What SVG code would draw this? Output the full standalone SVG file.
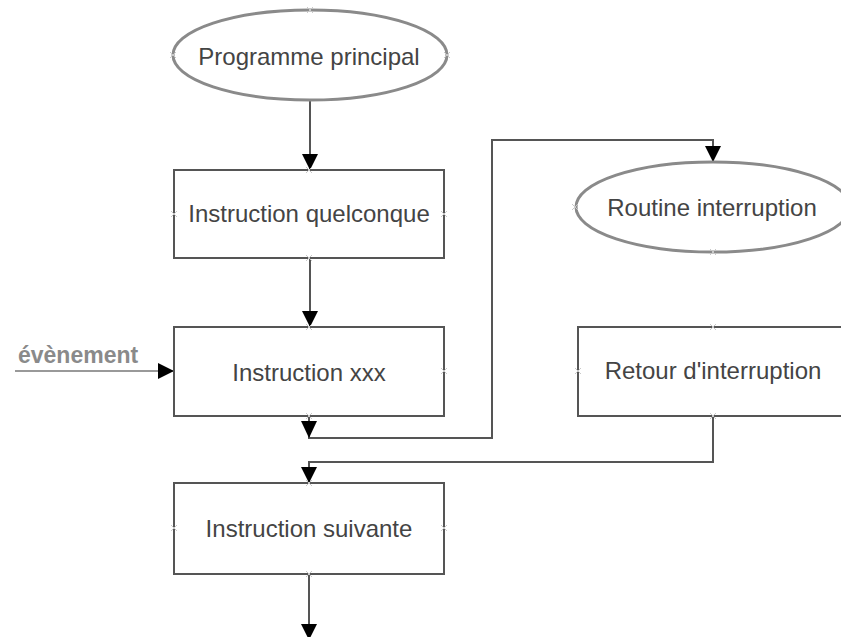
<svg xmlns="http://www.w3.org/2000/svg" width="841" height="637" viewBox="0 0 841 637">
<style>
.bg{fill:#fff}
.ell{fill:#fff;stroke:#8a8a8a;stroke-width:3}
.box{fill:#fff;stroke:#555;stroke-width:2}
.lbl{font-family:"Liberation Sans",Arial,sans-serif;font-size:24px;fill:#444;text-anchor:middle;dominant-baseline:central}
.evt{font-family:"Liberation Sans",Arial,sans-serif;font-size:23px;font-weight:bold;fill:#8a8a8a}
.con{fill:none;stroke:#555;stroke-width:2}
.evl{fill:none;stroke:#999;stroke-width:2}
.cp{stroke:#c8c8c8;stroke-width:1;fill:none}
</style>
<defs>
<marker id="ah" markerUnits="userSpaceOnUse" markerWidth="16" markerHeight="16" refX="16" refY="8" orient="auto" viewBox="0 0 16 16">
<path d="M0,0 L16,8 L0,16 z" fill="#000"/>
</marker>
</defs>
<rect class="bg" x="0" y="0" width="841" height="637"/>

<g id="connectors">
<path class="con" d="M310,100 V170" marker-end="url(#ah)"/>
<path class="con" d="M310,258 V327" marker-end="url(#ah)"/>
<path class="evl" d="M15,371 H174" marker-end="url(#ah)"/>
<path class="con" d="M309,416 V438 H492 V140 H713 V162" marker-end="url(#ah)"/>
<polygon points="301,421 317,421 309,438" fill="#000"/>
<path class="con" d="M713,416 V462 H309 V483" marker-end="url(#ah)"/>
<path class="con" d="M309,574 V640" marker-end="url(#ah)"/>
</g>

<g id="programme-principal">
<ellipse class="ell" cx="310" cy="55" rx="137" ry="45"/>
<text class="lbl" x="309" y="56">Programme principal</text>
<path class="cp" d="M307,7 L313,13 M313,7 L307,13 M170,52 L176,58 M176,52 L170,58 M444,52 L450,58 M450,52 L444,58"/>
</g>

<g id="instruction-quelconque">
<rect class="box" x="174" y="170" width="270" height="88"/>
<text class="lbl" x="309" y="213">Instruction quelconque</text>
<path class="cp" d="M306,167 L312,173 M312,167 L306,173 M171,211 L177,217 M177,211 L171,217 M441,211 L447,217 M447,211 L441,217 M306,255 L312,261 M312,255 L306,261"/>
</g>

<g id="evenement">
<text class="evt" x="18" y="363">évènement</text>
</g>

<g id="instruction-xxx">
<rect class="box" x="174" y="327" width="270" height="89"/>
<text class="lbl" x="309" y="372">Instruction xxx</text>
<path class="cp" d="M306,324 L312,330 M312,324 L306,330 M441,368 L447,374 M447,368 L441,374 M306,413 L312,419 M312,413 L306,419"/>
</g>

<g id="routine-interruption">
<ellipse class="ell" cx="713" cy="207" rx="137" ry="45"/>
<text class="lbl" x="712" y="207">Routine interruption</text>
<path class="cp" d="M572,204 L578,210 M578,204 L572,210 M710,249 L716,255 M716,249 L710,255"/>
</g>

<g id="retour-interruption">
<rect class="box" x="578" y="327" width="270" height="89"/>
<text class="lbl" x="713" y="370">Retour d'interruption</text>
<path class="cp" d="M710,324 L716,330 M716,324 L710,330 M575,368 L581,374 M581,368 L575,374 M710,413 L716,419 M716,413 L710,419"/>
</g>

<g id="instruction-suivante">
<rect class="box" x="174" y="483" width="270" height="91"/>
<text class="lbl" x="309" y="528">Instruction suivante</text>
<path class="cp" d="M306,480 L312,486 M312,480 L306,486 M171,525 L177,531 M177,525 L171,531 M441,525 L447,531 M447,525 L441,531 M306,571 L312,577 M312,571 L306,577"/>
</g>
</svg>
